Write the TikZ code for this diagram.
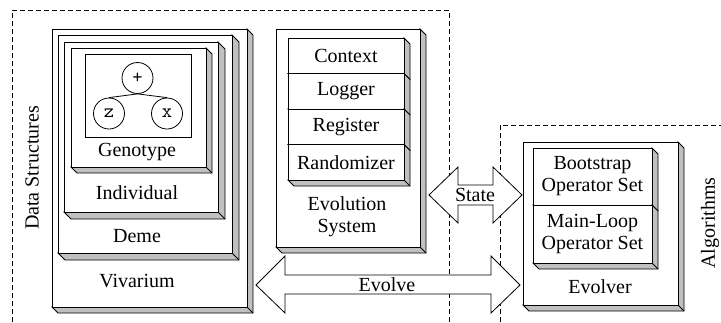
\documentclass[tikz,border=0pt]{standalone}
\usepackage{fontspec}
\setmainfont{Liberation Serif}
\usetikzlibrary{fit}
\definecolor{shadegray}{RGB}{192,192,192}
\newcommand\boxthree[6]{%
  \filldraw[fill=shadegray] (#4,#3) -- ++(#6,#6) -- ({#4+#6},{#5+#6}) -- ({#2+#6},{#5+#6}) -- (#2,#5) -- (#4,#5) -- cycle;
  \draw (#4,#5) -- ++(#6,#6);
  \node[frontface, fit={(#2,#3) (#4,#5)}] (#1) {};
}
\begin{document}
\begin{tikzpicture}[x=1pt,y=-1pt,line width=0.8pt,
  frontface/.style={draw, fill=white, inner sep=0pt, outer sep=0pt},
  lbl/.style={font=\fontsize{20}{22}\selectfont, inner sep=0pt, align=center},
  treenode/.style={draw, circle, minimum size=31pt, inner sep=0pt, font=\fontsize{20}{20}\ttfamily},
  dashline/.style={dash pattern=on 5pt off 3pt, line width=0.7pt},
  bigarrow/.style={draw, fill=white, line width=0.8pt}]
\useasboundingbox (0,0) rectangle (721,322);
% dashed groups
\draw[dashline] (12,322) -- (12,10) -- (449,10) -- (449,322);
\draw[dashline] (500,322) -- (500,125) -- (721,125);
\node[lbl, rotate=90] (ds) at (32,168) {Data Structures};
\node[lbl, rotate=90] (alg) at (710,223) {Algorithms};
% Vivarium nest
\boxthree{viv}{52}{29}{247}{307}{6}
\boxthree{deme}{58}{35}{232}{253}{7}
\boxthree{ind}{64}{42}{218}{212}{7}
\boxthree{gen}{71}{48}{206}{167}{6}
\node[draw, inner sep=0pt, fit={(85,54) (191,137)}] (tree) {};
\node[treenode] (plus) at (137.5,78) {+};
\node[treenode] (zz) at (109,113.5) {z};
\node[treenode] (xx) at (167,113.5) {x};
\draw (plus.south) -- (zz.north);
\draw (plus.south) -- (xx.north);
\node[lbl] (genl) at (137,152) {Genotype};
\node[lbl] (indl) at (137,193) {Individual};
\node[lbl] (demel) at (137,236) {Deme};
\node[lbl] (vivl) at (137,281) {Vivarium};
% Evolution system
\boxthree{evs}{276}{29}{420}{247}{6}
\boxthree{ctx}{288}{38}{404}{73.5}{6}
\boxthree{log}{288}{73.5}{404}{109}{6}
\boxthree{reg}{288}{109}{404}{144.5}{6}
\boxthree{rnd}{288}{144.5}{404}{180}{6}
\node[lbl] at (ctx) {Context};
\node[lbl] at (log) {Logger};
\node[lbl] at (reg) {Register};
\node[lbl] at (rnd) {Randomizer};
\node[lbl] (evsl) at (347,217) {Evolution\\System};
% Evolver
\boxthree{evo}{523}{142}{678}{305}{6}
\boxthree{boot}{533}{148}{652}{205}{6}
\boxthree{mainl}{533}{205}{652}{263}{6}
\node[lbl] at (boot) {Bootstrap\\Operator Set};
\node[lbl] at (mainl) {Main-Loop\\Operator Set};
\node[lbl] (evol) at (600,287) {Evolver};
% State arrow
\coordinate (sL) at (429,195);
\coordinate (sR) at (522,195);
\draw[bigarrow] (sL) -- (458,167) -- (458,185) -- (493,185) -- (493,167) -- (sR) -- (493,223) -- (493,205) -- (458,205) -- (458,223) -- cycle;
\node[lbl] (statel) at (475,195) {State};
% Evolve arrow
\coordinate (eL) at (256,285);
\coordinate (eR) at (520,285);
\draw[bigarrow] (eL) -- (285,256) -- (285,275) -- (491,275) -- (491,256) -- (eR) -- (491,313) -- (491,294) -- (285,294) -- (285,313) -- cycle;
\node[lbl] (evolvel) at (387,285) {Evolve};
\end{tikzpicture}
\end{document}
